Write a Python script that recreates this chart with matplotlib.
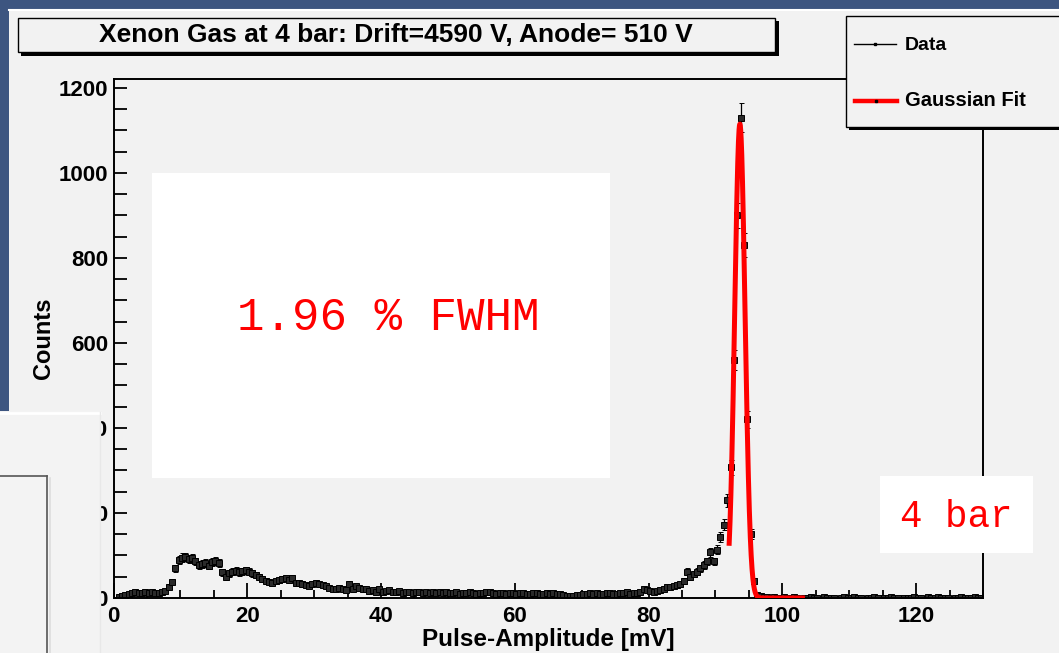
import numpy as np
import matplotlib.pyplot as plt
from matplotlib.patches import Rectangle
from matplotlib.lines import Line2D
from matplotlib.ticker import MultipleLocator

plt.rcParams['font.family'] = ['Liberation Sans', 'DejaVu Sans']

W, H = 1059, 653  # output size in pixels

# histogram of pulse amplitudes, 0.5 mV bins from 0 to 130 mV
bin_width = 0.5
counts = [
    0, 3, 5, 8, 10, 12, 13, 12, 12, 14, 11, 13, 12, 12, 14, 17, 27, 38, 70, 90,            # 0-10
    95, 97, 92, 94, 86, 78, 80, 82, 76, 84, 88, 82, 60, 50, 58, 62, 64, 60, 63, 65,        # 10-20
    62, 58, 54, 50, 44, 40, 38, 36, 40, 42, 44, 46, 42, 48, 36, 35, 34, 30, 28, 34,        # 20-30
    36, 32, 30, 28, 24, 22, 20, 24, 22, 18, 34, 22, 28, 24, 20, 22, 16, 18, 14, 20,        # 30-40
    14, 16, 18, 15, 14, 17, 12, 13, 14, 12, 13, 15, 12, 14, 11, 13, 12, 14, 12, 13,        # 40-50
    12, 11, 13, 10, 12, 11, 13, 12, 10, 11, 12, 13, 14, 11, 10, 12, 11, 10, 12, 11,        # 50-60
    10, 12, 11, 9, 10, 11, 12, 10, 9, 11, 10, 12, 10, 9, 6, 5, 4, 5, 6, 8,                  # 60-70
    10, 9, 11, 10, 12, 10, 9, 11, 12, 10, 9, 11, 12, 13, 10, 12, 11, 13, 22, 18,            # 70-80
    17, 15, 16, 18, 22, 25, 27, 28, 30, 32, 40, 62, 50, 56, 62, 70, 78, 86, 108, 86,       # 80-90
    114, 144, 172, 230, 308, 560, 900, 1130, 830, 420, 150, 40, 8, 4, 3, 2, 1, 2, 1, 1,    # 90-100
    2, 1, 1, 2, 1, 0, 1, 1, 2, 1, 1, 0, 2, 1, 1, 1, 0, 1, 2, 1,                             # 100-110
    1, 2, 1, 1, 0, 1, 1, 2, 1, 0, 1, 1, 2, 1, 1, 0, 1, 1, 1, 2,                             # 110-120
    1, 1, 0, 2, 1, 1, 2, 1, 1, 1, 0, 1, 1, 2, 1, 1, 1, 2, 1, 1,                             # 120-130
]

# gaussian fit parameters and fit range
fit_amp = 1115.0
fit_mean = 93.65
fit_sigma = 0.77
fit_lo, fit_hi = 92.05, 103.0

x_ticks = [0, 20, 40, 60, 80, 100, 120]
y_ticks = [0, 200, 400, 600, 800, 1000, 1200]

title = 'Xenon Gas at 4 bar: Drift=4590 V, Anode= 510 V'
fwhm_note = '1.96 % FWHM'
pressure_note = '4 bar'

counts = np.array(counts, dtype=float)
centers = np.arange(len(counts)) * bin_width + bin_width / 2
keep = counts > 0

fig = plt.figure(figsize=(W / 100, H / 100), dpi=100, facecolor='#3d5580')


def box(x0, y0, x1, y1, **kw):
    # rectangle given in screen pixels (origin top-left)
    r = Rectangle((x0 / W, 1 - y1 / H), (x1 - x0) / W, (y1 - y0) / H,
                  transform=fig.transFigure, **kw)
    fig.add_artist(r)
    return r


def hline(x0, x1, y, **kw):
    fig.add_artist(Line2D([x0 / W, x1 / W], [1 - y / H, 1 - y / H],
                          transform=fig.transFigure, **kw))


def vline(x, y0, y1, **kw):
    fig.add_artist(Line2D([x / W, x / W], [1 - y0 / H, 1 - y1 / H],
                          transform=fig.transFigure, **kw))


# grey canvas
box(9, 9, W, H, fc='#f2f2f2', ec='none', zorder=-10)
hline(9, W, 10, color='white', lw=1.5, zorder=-9)

ax = fig.add_axes([113.5 / W, 1 - 598 / H, (983 - 113.5) / W, (598 - 79) / H])
ax.set_facecolor('#f2f2f2')

ax.errorbar(centers[keep], counts[keep], yerr=np.sqrt(counts[keep]),
            fmt='s', ms=4, mfc='#2a2a2a', mec='black', mew=0.7,
            ecolor='black', elinewidth=0.9, capsize=1.8, capthick=0.9, zorder=2)

xf = np.linspace(fit_lo, fit_hi, 600)
yf = fit_amp * np.exp(-0.5 * ((xf - fit_mean) / fit_sigma) ** 2)
ax.plot(xf, yf, color='red', lw=3.6, zorder=3)

ax.set_xlim(0, 130)
ax.set_ylim(0, 1221)
ax.set_xticks(x_ticks)
ax.set_yticks(y_ticks)
ax.xaxis.set_minor_locator(MultipleLocator(5))
ax.yaxis.set_minor_locator(MultipleLocator(50))
ax.tick_params(axis='both', which='both', direction='in', width=1.3, color='black')
ax.tick_params(axis='x', which='major', length=11, pad=6, labelsize=16)
ax.tick_params(axis='x', which='minor', length=5.5)
ax.tick_params(axis='y', which='major', length=9.5, pad=4, labelsize=16)
ax.tick_params(axis='y', which='minor', length=9)
for lab in ax.get_xticklabels() + ax.get_yticklabels():
    lab.set_fontweight('bold')
for sp in ax.spines.values():
    sp.set_linewidth(1.4)

ax.set_xlabel('Pulse-Amplitude [mV]', fontsize=17.5, fontweight='bold')
ax.set_ylabel('Counts', fontsize=17, fontweight='bold')
ax.xaxis.set_label_coords(0.5, -0.058)
ax.yaxis.set_label_coords(-0.067, 0.5)

# title box with shadow
box(21, 21, 779, 56, fc='black', ec='none', zorder=5)
box(18, 18, 775, 52, fc='#f2f2f2', ec='black', lw=1.0, zorder=6)
fig.text(396 / W, 1 - 35 / H, title, ha='center', va='center',
         fontsize=19, fontweight='bold', zorder=7)

# legend box
box(849, 19, W + 10, 130, fc='black', ec='none', zorder=5)
box(846, 16, W + 10, 127, fc='#f2f2f2', ec='black', lw=1.0, zorder=6)
hline(854, 896, 44, color='black', lw=1.0, zorder=7)
fig.add_artist(Line2D([875 / W], [1 - 44 / H], marker='s', ms=1.5, color='black',
                      transform=fig.transFigure, zorder=8))
fig.text(905 / W, 1 - 45 / H, 'Data', ha='left', va='center',
         fontsize=14, fontweight='bold', zorder=7)
hline(855, 897, 101, color='red', lw=3.2, zorder=7)
fig.add_artist(Line2D([876 / W], [1 - 101 / H], marker='s', ms=1.5, color='black',
                      transform=fig.transFigure, zorder=8))
fig.text(905 / W, 1 - 101 / H, 'Gaussian Fit', ha='left', va='center',
         fontsize=14.5, fontweight='bold', zorder=7)

# pasted annotation boxes
box(152, 173, 610, 478, fc='white', ec='none', zorder=5)
fig.text(388 / W, 1 - 318 / H, fwhm_note, ha='center', va='center', color='red',
         fontsize=33, family=['Liberation Mono', 'DejaVu Sans Mono'], zorder=6)
box(880, 476, 1033, 553, fc='white', ec='none', zorder=5)
fig.text(956 / W, 1 - 517 / H, pressure_note, ha='center', va='center', color='red',
         fontsize=27, family=['Liberation Mono', 'DejaVu Sans Mono'], zorder=6)

# overlapping window at the lower left
box(-5, 411, 100, H + 5, fc='#f3f3f3', ec='none', zorder=8)
hline(0, 100, 412.5, color='white', lw=2, zorder=9)
vline(99.5, 412, H, color='#e8e8e8', lw=1, zorder=9)
hline(0, 47, 476, color='#555555', lw=1.2, zorder=9)
vline(47, 476, H, color='#555555', lw=1.2, zorder=9)
vline(50, 478, H, color='#dddddd', lw=1.2, zorder=9)

fig.savefig('out.png', dpi=100, facecolor=fig.get_facecolor())
